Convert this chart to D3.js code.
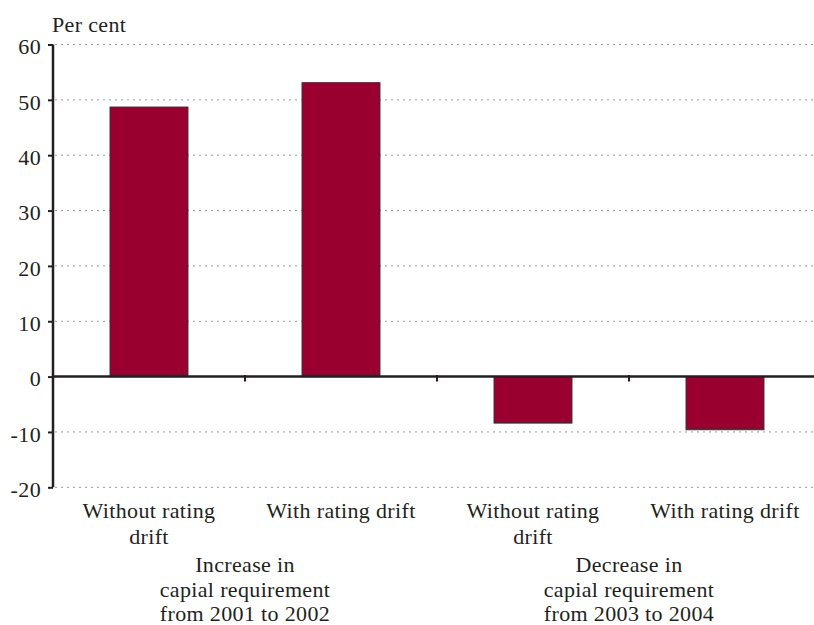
<!DOCTYPE html>
<html>
<head>
<meta charset="utf-8">
<script src="https://cdn.jsdelivr.net/npm/d3@7"></script>
<style>
  html, body { margin: 0; padding: 0; background: #fff; }
  svg { display: block; }
  svg text { font-family: "Liberation Serif", "DejaVu Serif", serif !important; fill: #231f20; letter-spacing: 0.35px; }
</style>
</head>
<body>
<svg id="chart" width="814" height="625"></svg>
<script>
// ---- data ----
const categories = ["Without rating drift", "With rating drift", "Without rating drift (2003-04)", "With rating drift (2003-04)"];
const categoryLabelLines = [["Without rating", "drift"], ["With rating drift"], ["Without rating", "drift"], ["With rating drift"]];
const values = [48.7, 53.1, -8.4, -9.6];
const groupLabels = [
  ["Increase in", "capial requirement", "from 2001 to 2002"],
  ["Decrease in", "capial requirement", "from 2003 to 2004"]
];
const yTicks = [-20, -10, 0, 10, 20, 30, 40, 50, 60];
const yUnit = "Per cent";

// ---- layout ----
const svg = d3.select("#chart");
const W = 814;
const left = 53;
const step = 192;
const x = d3.scaleBand().domain(categories).range([left, left + step * categories.length]).padding(0);
const y = d3.scaleLinear().domain([-20, 60]).range([487.3, 44.5]);
const barW = x.bandwidth() * 0.406;
const fs = 22;

// gridlines (dotted)
svg.append("g").selectAll("line")
  .data(yTicks.filter(t => t !== 0))
  .join("line")
  .attr("x1", left + 2).attr("x2", W)
  .attr("y1", d => y(d)).attr("y2", d => y(d))
  .attr("stroke", "#9a9a9a").attr("stroke-width", 1)
  .attr("stroke-dasharray", "2,4");

// bars
svg.append("g").selectAll("rect")
  .data(values)
  .join("rect")
  .attr("x", (d, i) => x(categories[i]) + (x.bandwidth() - barW) / 2)
  .attr("width", barW)
  .attr("y", d => y(Math.max(0, d)))
  .attr("height", d => Math.abs(y(d) - y(0)))
  .attr("fill", "#990030")
  .attr("stroke", "#333")
  .attr("stroke-width", 1);

// y axis
const yAxis = d3.axisLeft(y).tickValues(yTicks).tickSize(5).tickPadding(7).tickFormat(d => String(d));
const gy = svg.append("g").attr("transform", `translate(${left},0)`).call(yAxis);
gy.attr("font-family", null);
gy.select(".domain").attr("stroke", "#231f20").attr("stroke-width", 2.5).attr("d", `M0,${y(-20)}V${y(60)}`);
gy.selectAll(".tick line").attr("stroke", "#231f20").attr("stroke-width", 2);
gy.selectAll(".tick text").attr("font-size", fs).attr("fill", "#231f20").attr("dy", "0.42em");

// zero line
svg.append("line")
  .attr("x1", left).attr("x2", W)
  .attr("y1", y(0)).attr("y2", y(0))
  .attr("stroke", "#231f20").attr("stroke-width", 2.5);

// category boundary ticks
const boundaries = categories.slice(1).map(c => x(c));
svg.append("g").selectAll("line")
  .data(boundaries)
  .join("line")
  .attr("x1", d => d).attr("x2", d => d)
  .attr("y1", y(0) - 1.5).attr("y2", y(0) + 5)
  .attr("stroke", "#231f20").attr("stroke-width", 2);

// unit label
svg.append("text").attr("x", 52).attr("y", 32).attr("font-size", fs).text(yUnit);

// category labels
const catG = svg.append("g");
categoryLabelLines.forEach((lines, i) => {
  const cx = x(categories[i]) + x.bandwidth() / 2;
  lines.forEach((ln, j) => {
    catG.append("text")
      .attr("x", cx).attr("y", 518 + j * 25.5)
      .attr("text-anchor", "middle").attr("font-size", fs)
      .text(ln);
  });
});

// group labels
groupLabels.forEach((lines, g) => {
  const cx = x(categories[g * 2 + 1]);
  lines.forEach((ln, j) => {
    svg.append("text")
      .attr("x", cx).attr("y", 572 + j * 24.7)
      .attr("text-anchor", "middle").attr("font-size", fs)
      .text(ln);
  });
});
</script>
</body>
</html>
